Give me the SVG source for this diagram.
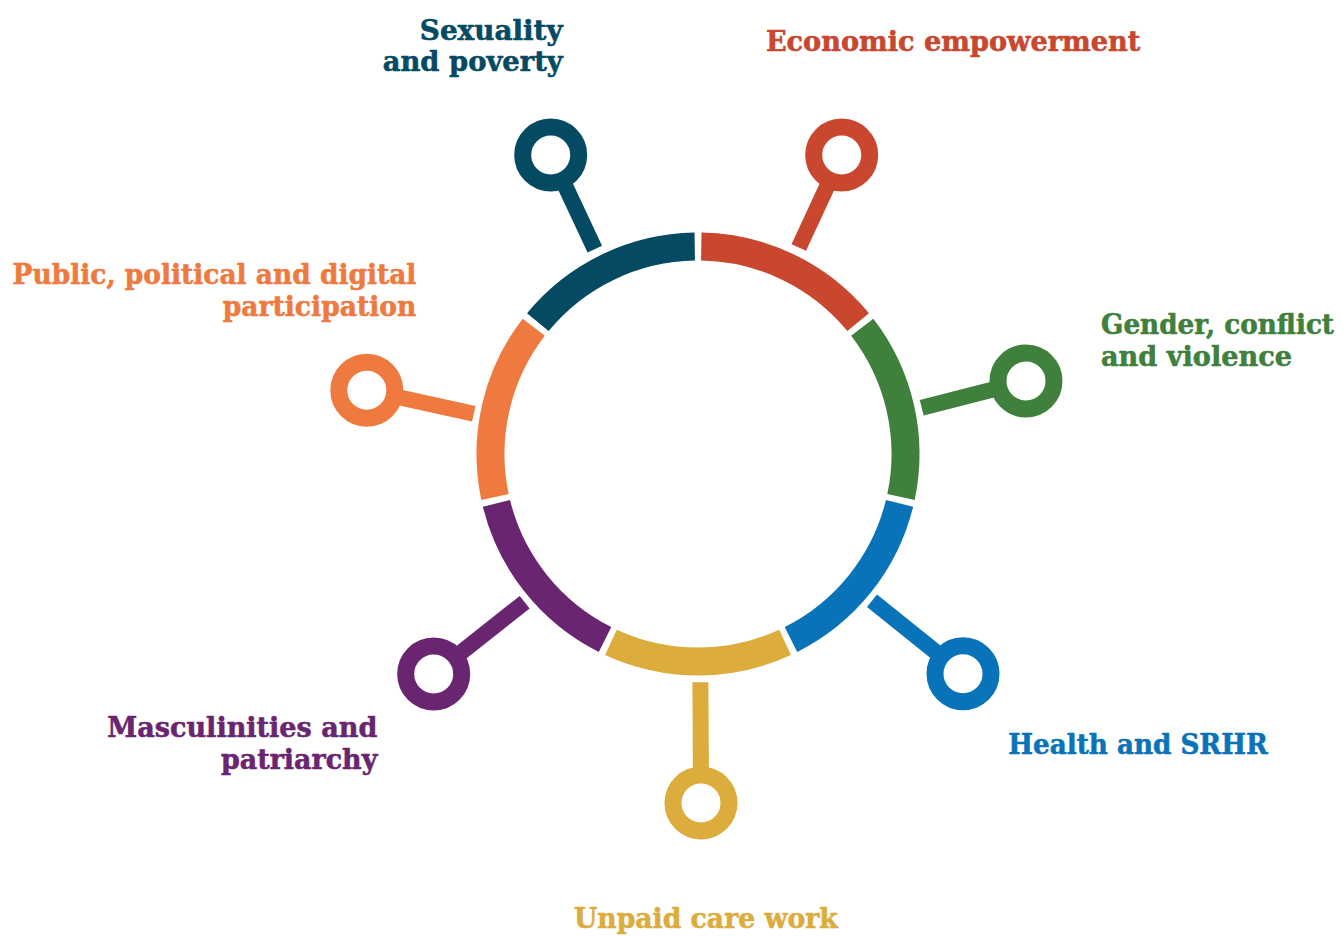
<svg xmlns="http://www.w3.org/2000/svg" width="1343" height="936" viewBox="0 0 1343 936">
<style>
.seg{fill:none;stroke-width:28;stroke-linecap:butt}
.stem{fill:none;stroke-width:16;stroke-linecap:butt}
.pin{fill:#fff;stroke-width:17}
.lbl{font-family:"DejaVu Serif","Liberation Serif",serif;font-weight:bold;font-size:28.5px;stroke-width:0.6;stroke-linejoin:round}
.c1{stroke:#054A63}.t1{fill:#054A63;stroke:#054A63}
.c2{stroke:#C8472E}.t2{fill:#C8472E;stroke:#C8472E}
.c3{stroke:#3E803C}.t3{fill:#3E803C;stroke:#3E803C}
.c4{stroke:#0873B9}.t4{fill:#0873B9;stroke:#0873B9}
.c5{stroke:#DCAC3C}.t5{fill:#DCAC3C;stroke:#DCAC3C}
.c6{stroke:#6A2570}.t6{fill:#6A2570;stroke:#6A2570}
.c7{stroke:#EF7A3F}.t7{fill:#EF7A3F;stroke:#EF7A3F}
</style>
<rect width="1343" height="936" fill="#fff"/>
<g id="connectors">
<line class="stem c1" x1="594.8" y1="249.2" x2="562.6" y2="180.4"/>
<line class="stem c2" x1="798.8" y1="247.5" x2="829.9" y2="180.4"/>
<line class="stem c3" x1="921.7" y1="407.7" x2="998.9" y2="387.9"/>
<line class="stem c4" x1="872" y1="600.8" x2="941.1" y2="656.2"/>
<line class="stem c5" x1="700.4" y1="682.3" x2="700.9" y2="775"/>
<line class="stem c6" x1="524.7" y1="602.2" x2="455.7" y2="656.7"/>
<line class="stem c7" x1="473.8" y1="413.8" x2="394.1" y2="396.2"/>
</g>
<g id="sexuality">
<path class="seg c1" d="M537.82,322.09 A207.5,207.5 0 0 1 694.74,246.53"/>
<circle class="pin c1" cx="550.7" cy="155" r="28"/>
<text class="lbl t1" x="419.8" y="40" textLength="142.8" lengthAdjust="spacingAndGlyphs">Sexuality</text>
<text class="lbl t1" x="382.7" y="71" textLength="180" lengthAdjust="spacingAndGlyphs">and poverty</text>
</g>
<g id="economic">
<path class="seg c2" d="M701.26,246.53 A207.5,207.5 0 0 1 858.18,322.09"/>
<circle class="pin c2" cx="841.7" cy="155" r="28"/>
<text class="lbl t2" x="765.9" y="51" textLength="374.4" lengthAdjust="spacingAndGlyphs">Economic empowerment</text>
</g>
<g id="gender">
<path class="seg c3" d="M862.24,327.19 A207.5,207.5 0 0 1 901.00,496.99"/>
<circle class="pin c3" cx="1026" cy="381" r="28"/>
<text class="lbl t3" x="1101" y="334.3" textLength="233" lengthAdjust="spacingAndGlyphs">Gender, conflict</text>
<text class="lbl t3" x="1101" y="366" textLength="191" lengthAdjust="spacingAndGlyphs">and violence</text>
</g>
<g id="health">
<path class="seg c4" d="M899.55,503.34 A207.5,207.5 0 0 1 790.96,639.51"/>
<circle class="pin c4" cx="963" cy="673.7" r="28"/>
<text class="lbl t4" x="1008.3" y="754.3" textLength="259.4" lengthAdjust="spacingAndGlyphs">Health and SRHR</text>
</g>
<g id="unpaid">
<path class="seg c5" d="M785.08,642.34 A207.5,207.5 0 0 1 610.92,642.34"/>
<circle class="pin c5" cx="701" cy="803" r="28"/>
<text class="lbl t5" x="574" y="928.3" textLength="263.7" lengthAdjust="spacingAndGlyphs">Unpaid care work</text>
</g>
<g id="masculinities">
<path class="seg c6" d="M605.04,639.51 A207.5,207.5 0 0 1 496.45,503.34"/>
<circle class="pin c6" cx="433.7" cy="674" r="28"/>
<text class="lbl t6" x="107.3" y="737.3" textLength="270" lengthAdjust="spacingAndGlyphs">Masculinities and</text>
<text class="lbl t6" x="221" y="768.8" textLength="156.3" lengthAdjust="spacingAndGlyphs">patriarchy</text>
</g>
<g id="participation">
<path class="seg c7" d="M495.00,496.99 A207.5,207.5 0 0 1 533.76,327.19"/>
<circle class="pin c7" cx="366.8" cy="390.2" r="28"/>
<text class="lbl t7" x="12.6" y="284" textLength="403.8" lengthAdjust="spacingAndGlyphs">Public, political and digital</text>
<text class="lbl t7" x="222.7" y="316" textLength="193.7" lengthAdjust="spacingAndGlyphs">participation</text>
</g>
</svg>
